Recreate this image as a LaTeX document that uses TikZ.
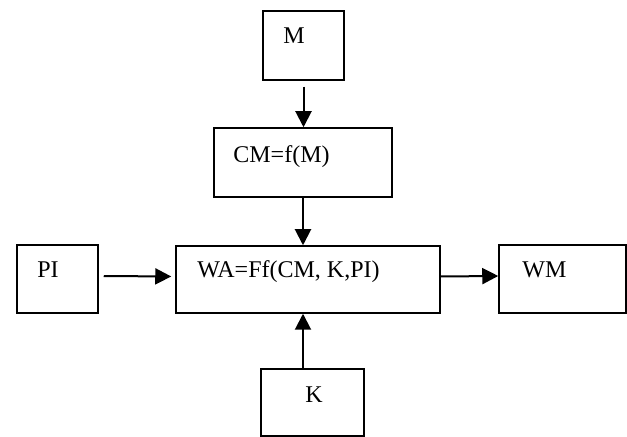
\documentclass[tikz,border=0pt]{standalone}
\usepackage{fontspec}
\setmainfont{Liberation Serif}
\usetikzlibrary{arrows.meta,calc}
\tikzset{
  box/.style={draw, rectangle, line width=0.75pt, inner sep=0pt},
  txt/.style={inner sep=0pt, anchor=base west, font=\fontsize{12}{14}\selectfont},
  flow/.style={-{Triangle[length=8pt,width=8pt]}, line width=1pt}
}
\begin{document}
\begin{tikzpicture}[x=0.5pt, y=-0.5pt]
            \useasboundingbox (0,0) rectangle (627,437);

            % boxes
            \node[box, minimum width=40.5pt, minimum height=34.5pt] (m) at (303.5, 45.5) {};
            \node[box, minimum width=89pt, minimum height=34.5pt] (cm) at (303, 162.5) {};
            \node[box, minimum width=132pt, minimum height=33.5pt] (wa) at (308, 279.5) {};
            \node[box, minimum width=40.5pt, minimum height=34pt] (pi) at (57.5, 279) {};
            \node[box, minimum width=63.5pt, minimum height=34pt] (wm) at (562.5, 279) {};
            \node[box, minimum width=51.5pt, minimum height=33.5pt] (k) at (312.5, 402.5) {};

            % texts
            \node[txt] (mtext) at (283, 44) {M};
            \node[txt] (cmtext) at (233, 163) {CM=f(M)};
            \node[txt] (watext) at (197, 278) {WA=Ff(CM, K,PI)};
            \node[txt] (pitext) at (37, 278) {PI};
            \node[txt] (wmtext) at (522, 278) {WM};
            \node[txt] (ktext) at (305, 402.5) {K};

            % arrows
            \draw[flow, shorten <=3pt] (m.south) -- (m.south |- cm.north);
            \draw[flow] (cm.south) -- (cm.south |- wa.north);
            \draw[flow] (cm.south |- k.north) -- (cm.south |- wa.south);
            \draw[flow, shorten <=2.5pt, shorten >=2pt] ($(pi.east)+(0,-3)$) -- ($(wa.west)+(0,-3)$);
            \draw[flow] ($(wa.east)+(0,-3)$) -- ($(wm.west)+(0,-3)$);
        \end{tikzpicture}
\end{document}
